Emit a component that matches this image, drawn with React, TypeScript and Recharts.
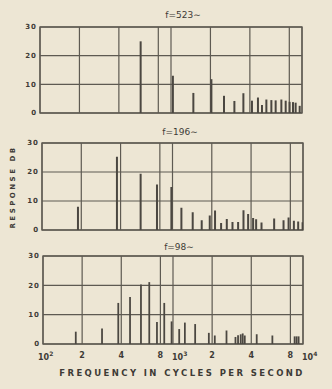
import { BarChart, Bar, XAxis, YAxis, CartesianGrid, ReferenceArea } from 'recharts'

// harmonic spectra (frequency in c.p.s., response in dB)
const f523Freq = [590, 1040, 1490, 2046, 2553, 3065, 3590, 4174, 4638, 4977, 5377, 5871, 6331, 6998, 7551, 8091, 8583, 8995, 9657]
const f523Db = [25, 13, 7, 11.8, 6, 4.2, 6.9, 4.3, 5.4, 2.8, 4.7, 4.5, 4.4, 4.7, 4.3, 3.9, 3.8, 3.6, 2.5]

const f196Freq = [187, 372, 565, 754, 972, 1160, 1416, 1660, 1913, 2100, 2337, 2584, 2857, 3155, 3469, 3765, 4111, 4336, 4768, 5959, 7033, 7686, 8440, 9106, 9843]
const f196Db = [8, 25.3, 19.4, 15.7, 14.8, 7.7, 6.1, 3.4, 5, 6.7, 2.4, 3.8, 2.8, 2.8, 6.8, 5.5, 4.1, 3.7, 2.6, 4, 3.4, 4.3, 3.2, 2.9, 2.7]

const f98Freq = [179, 285, 380, 468, 568, 658, 754, 858, 977, 1118, 1236, 1483, 1890, 2100, 2584, 3029, 3171, 3324, 3444, 3571, 4413, 5823, 8637, 8946, 9268]
const f98Db = [4.2, 5.3, 14, 16, 20.3, 21.1, 7.5, 14, 7.7, 5.1, 7.3, 6.8, 3.8, 2.9, 4.6, 2.4, 3, 3.3, 3.6, 2.9, 3.3, 2.9, 2.6, 2.6, 2.6]

const gridFreqs = [100, 200, 400, 800, 1000, 2000, 4000, 8000, 10000]
const tickText = ['10', '2', '4', '8', '10', '2', '4', '8', '10']
const tickPower = ['2', '', '', '', '3', '', '', '', '4']
const dbTicks = [0, 10, 20, 30]

const ink = '#3e3b36'
const gridInk = '#5e5a52'
const paper = '#ede6d4'
const font = '"DejaVu Sans", sans-serif'

const NoTick = () => <g />

const FreqTick = ({ x, y, payload, index }: any) => {
  const i = gridFreqs.indexOf(payload.value) >= 0 ? gridFreqs.indexOf(payload.value) : index
  const txt = tickText[i]
  const pow = tickPower[i]
  if (!pow) {
    return (
      <text x={x} y={y + 12} textAnchor="middle" fill={ink} fontSize={8} fontWeight="bold" fontFamily={font}>
        {txt}
      </text>
    )
  }
  const first = payload.value === 100
  return (
    <text x={first ? x - 5 : x - 1} y={y + 14} textAnchor="start" fill={ink} fontSize={8} fontWeight="bold" fontFamily={font}>
      <tspan>{txt}</tspan>
      <tspan dy={-4} fontSize={6}>{pow}</tspan>
    </text>
  )
}

function Panel({ freq, db, top, height, margin, yWidth, showTicks }: any) {
  const rows = freq.map((f: number, i: number) => ({ f, db: db[i] }))
  return (
    <div style={{ position: 'absolute', left: 0, top }}>
      <BarChart width={332} height={height} data={rows} margin={margin}>
        <CartesianGrid stroke={gridInk} strokeWidth={1.2} />
        <XAxis
          dataKey="f"
          type="number"
          scale="log"
          domain={[100, 10000]}
          ticks={gridFreqs}
          interval={0}
          allowDataOverflow
          height={showTicks ? 20 : 0}
          tick={showTicks ? <FreqTick /> : <NoTick />}
          axisLine={false}
          tickLine={false}
          tickSize={0}
        />
        <YAxis
          type="number"
          domain={[0, 30]}
          ticks={dbTicks}
          interval={0}
          width={yWidth}
          axisLine={false}
          tickLine={false}
          tickSize={0}
          tickMargin={3}
          tick={{ fill: ink, fontSize: 7, fontWeight: 'bold', fontFamily: font, letterSpacing: 1 }}
        />
        <ReferenceArea x1={100} x2={10000} y1={0} y2={30} fill="none" stroke={gridInk} strokeWidth={1.3} ifOverflow="visible" />
        <Bar dataKey="db" fill="#4b4741" barSize={2} isAnimationActive={false} />
      </BarChart>
    </div>
  )
}

export default function App() {
  return (
    <div style={{ position: 'absolute', left: 0, top: 0, width: 332, height: 389, background: paper, overflow: 'hidden' }}>
      <Panel freq={f523Freq} db={f523Db} top={0} height={120} yWidth={40}
        margin={{ top: 27, right: 30, bottom: 7, left: 0 }} />
      <Panel freq={f196Freq} db={f196Db} top={120} height={115} yWidth={42}
        margin={{ top: 23, right: 29, bottom: 5, left: 0 }} />
      <Panel freq={f98Freq} db={f98Db} top={235} height={154} yWidth={43} showTicks
        margin={{ top: 21, right: 29, bottom: 25, left: 0 }} />
      <svg width={332} height={389} style={{ position: 'absolute', left: 0, top: 0, pointerEvents: 'none' }}>
        <g fill={ink} fontFamily={font}>
          <text x={183} y={18} textAnchor="middle" fontSize={9}>f=523∼</text>
          <text x={180} y={135} textAnchor="middle" fontSize={9}>f=196∼</text>
          <text x={179} y={250} textAnchor="middle" fontSize={9}>f=98∼</text>
          <text transform="translate(15,187) rotate(-90)" textAnchor="middle" fontSize={7} fontWeight="bold" letterSpacing={2.5}>
            RESPONSE DB
          </text>
          <text x={182} y={376} textAnchor="middle" fontSize={8.5} fontWeight="bold" letterSpacing={2.4}>
            FREQUENCY IN CYCLES PER SECOND
          </text>
        </g>
      </svg>
    </div>
  )
}
